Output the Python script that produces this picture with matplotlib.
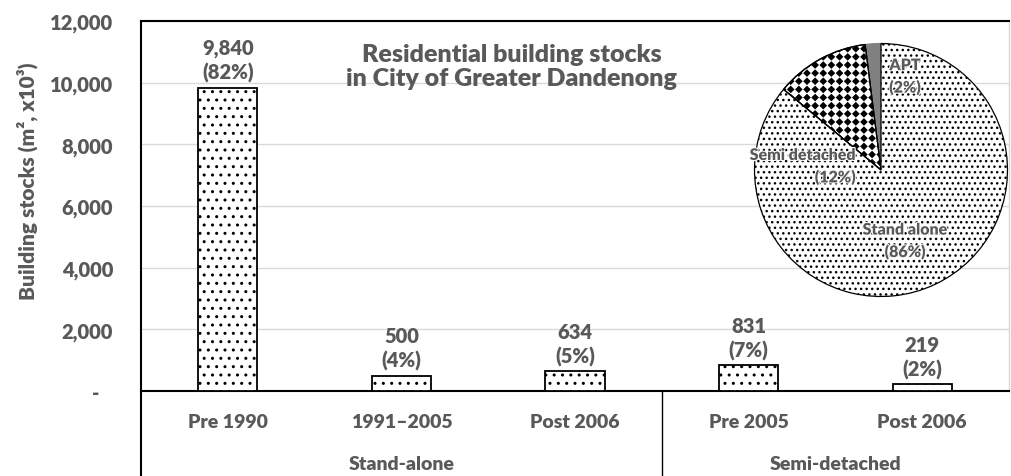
import matplotlib
matplotlib.use("Agg")
import matplotlib.pyplot as plt
import matplotlib.patheffects as pe
import numpy as np
from matplotlib.lines import Line2D
from matplotlib.path import Path
from matplotlib.patches import PathPatch

categories = ["Pre 1990", "1991\u20132005", "Post 2006", "Pre 2005", "Post 2006"]
groups = ["Stand-alone", "Semi-detached"]
group_sizes = [3, 2]
values = [9840, 500, 634, 831, 219]
shares = ["82%", "4%", "5%", "7%", "2%"]
yticks = [0, 2000, 4000, 6000, 8000, 10000, 12000]
ytick_labels = ["-   ", "2,000", "4,000", "6,000", "8,000", "10,000", "12,000"]
pie_labels = ["APT", "Semi detached", "Stand alone"]
pie_values = [2, 12, 86]

GRAY = "#595959"
FONT = "Lato"
W = "heavy"
plt.rcParams["font.family"] = [FONT, "DejaVu Sans"]
plt.rcParams["font.weight"] = W
plt.rcParams["hatch.linewidth"] = 1.0
plt.rcParams["hatch.color"] = "black"

fig = plt.figure(figsize=(10.11, 4.77), dpi=100)
ax = fig.add_axes([141/1011, 1-392/477, (1009-141)/1011, (392-22)/477])

x = np.arange(len(values))
ax.bar(x, values, width=0.34, color="white", edgecolor="black", linewidth=1.3, hatch="..", zorder=3)
ax.set_xlim(-0.5, len(values)-0.5)
ax.set_ylim(0, 12000)
ax.set_yticks(yticks)
ax.set_yticklabels(ytick_labels, fontsize=14.5, fontweight=W, color=GRAY)
ax.tick_params(axis="y", length=0, pad=20)
ax.tick_params(axis="x", length=0)
ax.set_xticks([])
ax.grid(axis="y", color="#d9d9d9", linewidth=1.0, zorder=0)
ax.set_axisbelow(True)
for s in ["top", "left", "bottom"]:
    ax.spines[s].set_color("black")
    ax.spines[s].set_linewidth(1.5)
ax.spines["right"].set_color("#d9d9d9")
ax.spines["right"].set_linewidth(1.0)

ax.set_ylabel("Building stocks (m\u00b2, x10\u00b3)", fontsize=15, fontweight=W, color=GRAY)
ax.yaxis.set_label_coords(-0.119, 0.57)

for xi, v, sh in zip(x, values, shares):
    ax.annotate(f"{v:,}\n({sh})", (xi, v), xytext=(0, 4), textcoords="offset points",
                ha="center", va="bottom", fontsize=14.5, fontweight=W, color=GRAY, linespacing=1.3)

trans = ax.get_xaxis_transform()
for xi, c in zip(x, categories):
    ax.text(xi, -0.082, c, transform=trans, ha="center", va="center", fontsize=14, fontweight=W, color=GRAY)
start = 0
bounds = [-0.5]
for g, n in zip(groups, group_sizes):
    ax.text(start + (n-1)/2, -0.197, g, transform=trans, ha="center", va="center", fontsize=14, fontweight=W, color=GRAY)
    start += n
    bounds.append(start - 0.5)
for b in bounds[:-1]:
    ax.add_line(Line2D([b, b], [0, -0.25], transform=trans, color="black", linewidth=1.0 if b > -0.5 else 1.5, clip_on=False))

ax.text(0.427, 0.878, "Residential building stocks\nin City of Greater Dandenong", transform=ax.transAxes,
        ha="center", va="center", fontsize=18, fontweight=W, color=GRAY, linespacing=1.15)

# Pie inset
cx, cy, r = 881, 171, 129
pax = fig.add_axes([(cx-r)/1011, 1-(cy+r)/477, 2*r/1011, 2*r/477])
wedges, _ = pax.pie(pie_values, startangle=90, counterclock=True,
                    colors=["#808080", "white", "white"],
                    wedgeprops=dict(edgecolor="black", linewidth=0.9))
wedges[0].set_edgecolor("#808080")
wedges[2].set_hatch("...")
pax.set_xlim(-1.02, 1.02)
pax.set_ylim(-1.02, 1.02)
pax.set_aspect("auto")
pax.axis("off")

# diamond texture for the semi-detached wedge
step = 8.3 / r
h = step * 0.47
gx = np.arange(-1.1, 1.1, step)
verts, codes = [], []
for xx in gx:
    for yy in gx:
        verts += [(xx - h, yy), (xx, yy + h), (xx + h, yy), (xx, yy - h), (xx - h, yy)]
        codes += [Path.MOVETO, Path.LINETO, Path.LINETO, Path.LINETO, Path.CLOSEPOLY]
tex = PathPatch(Path(verts, codes), facecolor="black", edgecolor="none", zorder=wedges[1].get_zorder() + 0.1)
pax.add_patch(tex)
tex.set_clip_path(wedges[1])
edge = PathPatch(wedges[1].get_path(), transform=wedges[1].get_transform(), facecolor="none",
                 edgecolor="black", linewidth=0.9, zorder=tex.get_zorder() + 0.1)
pax.add_patch(edge)

lbl = [(0.19, 0.74, "center"), (-0.20, 0.03, "right"), (0.19, -0.56, "center")]
for (lx, ly, ha), lab, pv in zip(lbl, pie_labels, pie_values):
    pax.text(lx, ly, f"{lab}\n({pv}%)", ha=ha, va="center", multialignment=ha, fontsize=11.5,
             fontweight=W, color=GRAY, linespacing=1.45, zorder=10,
             path_effects=[pe.withStroke(linewidth=1.5, foreground="white")])

fig.savefig("out.png", dpi=100)
